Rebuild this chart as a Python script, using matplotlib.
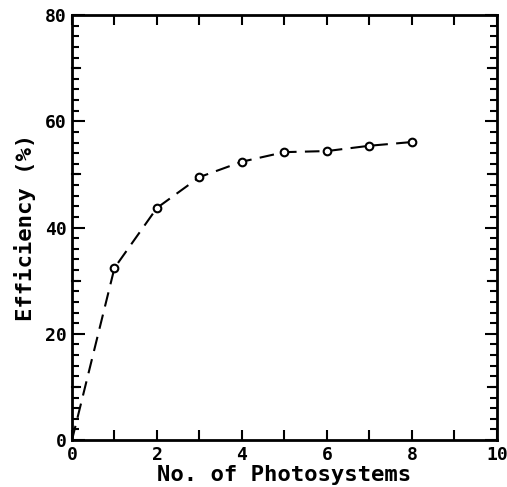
import numpy as np
import matplotlib.pyplot as plt
from matplotlib.ticker import MultipleLocator

# --- Données ---
nb_photosystemes = [0, 1, 2, 3, 4, 5, 6, 7, 8]
efficacite = [0, 32.4, 43.7, 49.5, 52.4, 54.2, 54.4, 55.4, 56.1]

plt.rcParams['font.family'] = ['DejaVu Sans Mono']
plt.rcParams['font.weight'] = 'bold'

fig = plt.figure(figsize=(5.07, 4.87), dpi=100)
ax = fig.add_axes([0.142, 0.0965, 0.838, 0.8725])

# ligne pointillée depuis l'origine, cercles sur les points mesurés
ax.plot(nb_photosystemes, efficacite, color="black", lw=1.5,
        dashes=(7, 4))
ax.plot(nb_photosystemes[1:], efficacite[1:], "o", ms=5.5, mfc="white",
        mec="black", mew=1.5, ls="none")

ax.set_xlim(0, 10)
ax.set_ylim(0, 80)
ax.xaxis.set_major_locator(MultipleLocator(2))
ax.xaxis.set_minor_locator(MultipleLocator(1))
ax.yaxis.set_major_locator(MultipleLocator(20))
ax.yaxis.set_minor_locator(MultipleLocator(2))

ax.tick_params(which="both", direction="in", top=True, right=True,
               width=1.5, labelsize=13, pad=4)
ax.tick_params(axis="x", which="major", length=7)
ax.tick_params(axis="x", which="minor", length=7)
ax.tick_params(axis="y", which="major", length=9)
ax.tick_params(axis="y", which="minor", length=5)
for sp in ax.spines.values():
    sp.set_linewidth(2)

# grands traits tous les 10 sur l'axe y
for y in range(10, 80, 20):
    ax.plot([0, 0.2], [y, y], color="black", lw=1.5, clip_on=False)
    ax.plot([9.8, 10], [y, y], color="black", lw=1.5, clip_on=False)

ax.set_xlabel("No. of Photosystems", fontsize=16, fontweight="bold", labelpad=1)
ax.set_ylabel("Efficiency (%)", fontsize=16, fontweight="bold", labelpad=6)

plt.savefig("out.png", dpi=100)
